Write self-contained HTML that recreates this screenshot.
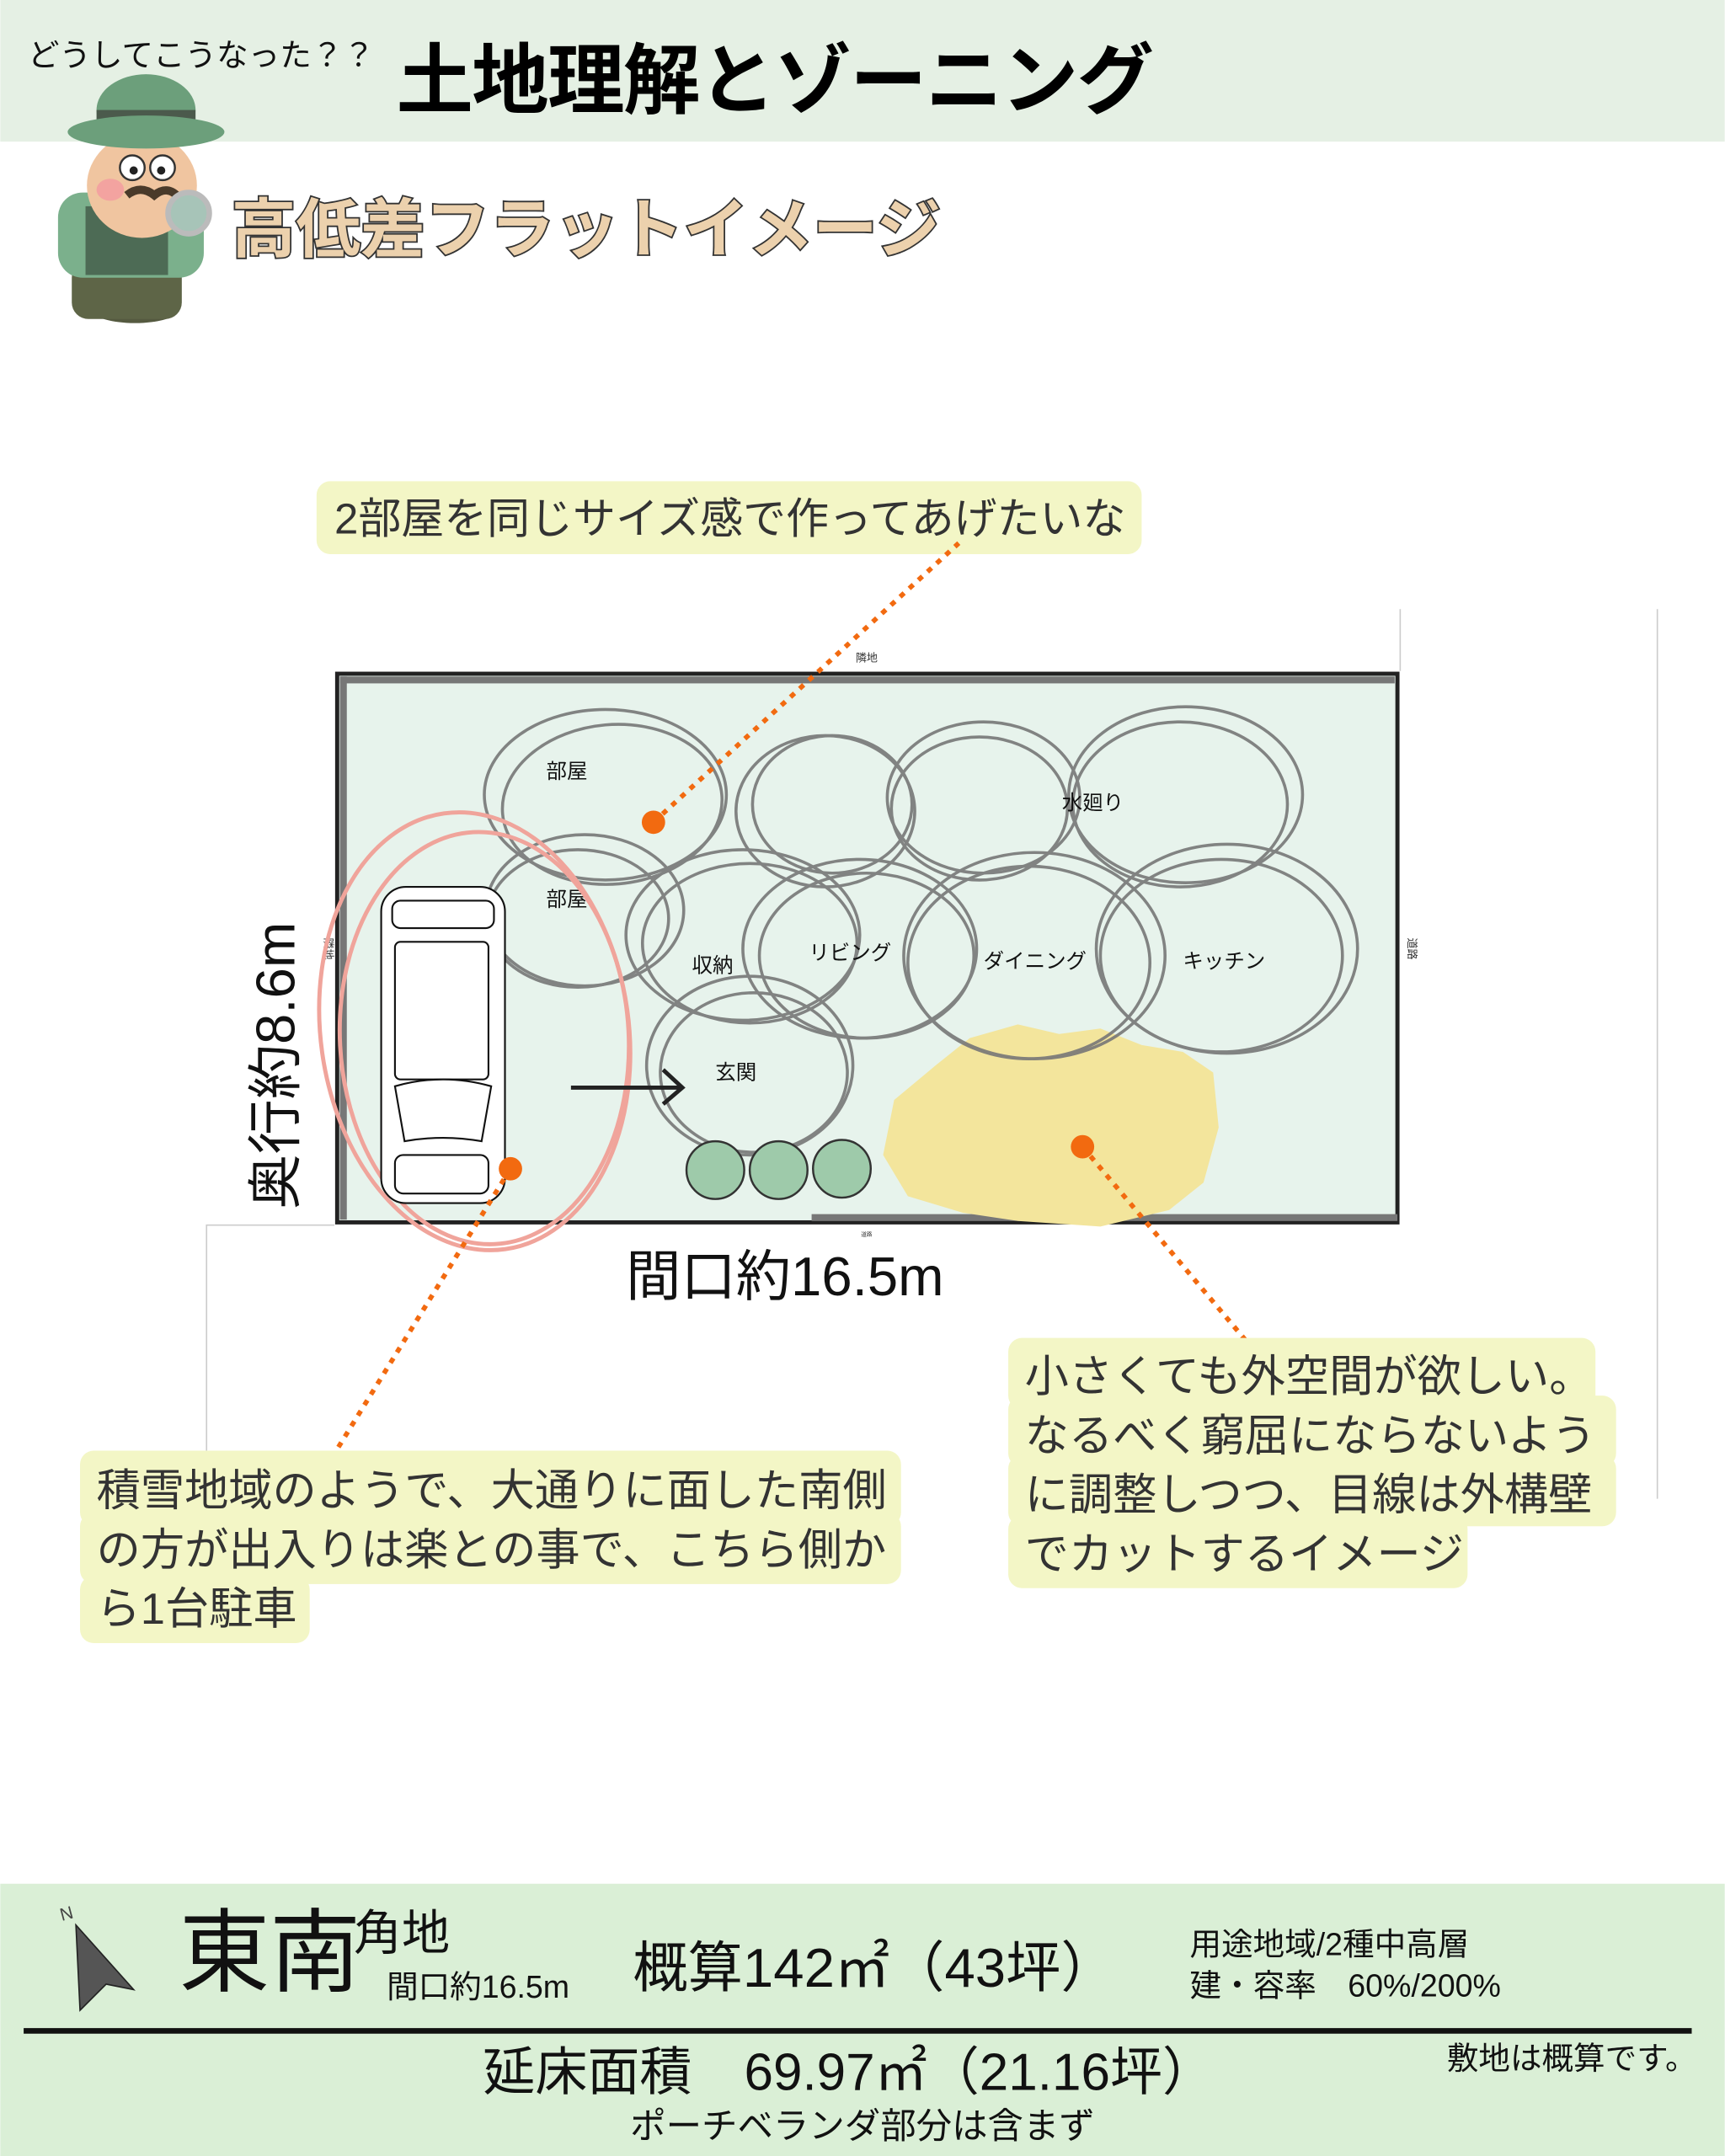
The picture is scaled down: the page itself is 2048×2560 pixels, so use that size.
<!DOCTYPE html>
<html><head><meta charset="utf-8"><style>
html,body{margin:0;padding:0;background:#fff}
svg{display:block}
text{font-family:"Liberation Sans","Noto Sans CJK JP",sans-serif}
</style></head><body>
<svg width="2048" height="2560" viewBox="0 0 1254 1568" xmlns="http://www.w3.org/2000/svg">
<rect width="1254" height="1568" fill="#fff"/>
<rect width="1254" height="103" fill="#e5f0e4"/>
<text x="20" y="48" font-size="23" fill="#111">どうしてこうなった？？</text>
<text x="288" y="78" font-size="56" font-weight="bold" fill="#000" letter-spacing="-1">土地理解とゾーニング</text>
<!-- detective -->
<g>
<ellipse cx="98" cy="225" rx="32" ry="10" fill="#555a40"/>
<rect x="52" y="190" width="80" height="42" rx="12" fill="#5e6547"/>
<rect x="42" y="140" width="106" height="62" rx="18" fill="#7bb08c"/>
<rect x="62" y="150" width="60" height="50" fill="#4d6b55"/>
<ellipse cx="103" cy="135" rx="40" ry="38" fill="#f0c5a0"/>
<ellipse cx="80" cy="138" rx="10" ry="8" fill="#f3a3a0"/>
<circle cx="96" cy="122" r="9" fill="#fff" stroke="#333" stroke-width="1.5"/>
<circle cx="118" cy="122" r="9" fill="#fff" stroke="#333" stroke-width="1.5"/>
<circle cx="97" cy="124" r="3" fill="#222"/><circle cx="117" cy="124" r="3" fill="#222"/>
<path d="M92 142 q10 -8 20 0 q10 -8 18 2" fill="none" stroke="#4a3a2a" stroke-width="6"/>
<ellipse cx="106" cy="80" rx="36" ry="26" fill="#6c9f7b"/>
<rect x="70" y="80" width="72" height="10" fill="#4b5a4c"/>
<ellipse cx="106" cy="96" rx="57" ry="12" fill="#6c9f7b"/>
<circle cx="137" cy="155" r="15" fill="#a7c4b8" stroke="#bbb" stroke-width="4"/>
</g>
<text x="168" y="183" font-size="47" font-weight="bold" fill="#ecd1ad" stroke="#333" stroke-width="2.2" paint-order="stroke" letter-spacing="0">高低差フラットイメージ</text>

<!-- bubble 1 -->
<rect x="230" y="350" width="600" height="53" rx="10" fill="#f3f6c6"/>
<text x="243" y="388" font-size="31.2" fill="#333">2部屋を同じサイズ感で作ってあげたいな</text>

<!-- guide lines -->
<g stroke="#ccc" stroke-width="1" fill="none">
<line x1="1018" y1="443" x2="1018" y2="488"/>
<line x1="1205" y1="443" x2="1205" y2="1090"/>
<polyline points="243,891 150,891 150,1060"/>
</g>
<!-- site -->
<rect x="245" y="490" width="771" height="399" fill="#e7f3ec" stroke="#222" stroke-width="3"/>
<rect x="247" y="492" width="767" height="5" fill="#777"/>
<rect x="247" y="492" width="5" height="395" fill="#777"/>
<rect x="590" y="883" width="426" height="5" fill="#777"/>
<text x="630" y="481" font-size="8" text-anchor="middle" fill="#333">隣地</text>
<text x="630" y="899" font-size="4" text-anchor="middle" fill="#333">道路</text>
<text transform="translate(236,690) rotate(90)" font-size="8" text-anchor="middle" fill="#333">隣地</text>
<text transform="translate(1024,690) rotate(90)" font-size="8" text-anchor="middle" fill="#333">道路</text>

<!-- yellow blob -->
<path d="M705 755 L740 745 L770 752 L800 748 L830 760 L860 765 L882 780 L886 820 L875 860 L850 880 L800 892 L740 888 L700 882 L660 870 L642 840 L650 800 L680 775 Z" fill="#f3e59c"/>

<!-- room circles -->
<g fill="none" stroke="#777" stroke-width="2.2" opacity="0.9">
<ellipse cx="440" cy="578" rx="88" ry="62"/><ellipse cx="445" cy="585" rx="80" ry="58" transform="rotate(-5 445 585)"/>
<ellipse cx="425" cy="662" rx="72" ry="55"/><ellipse cx="420" cy="668" rx="66" ry="50"/>
<ellipse cx="600" cy="590" rx="65" ry="55"/><ellipse cx="605" cy="585" rx="58" ry="50"/>
<ellipse cx="715" cy="580" rx="70" ry="55"/><ellipse cx="712" cy="588" rx="64" ry="52"/>
<ellipse cx="862" cy="578" rx="85" ry="64"/><ellipse cx="858" cy="585" rx="78" ry="60"/>
<ellipse cx="540" cy="680" rx="85" ry="62"/><ellipse cx="545" cy="686" rx="78" ry="58"/>
<ellipse cx="625" cy="690" rx="85" ry="65"/><ellipse cx="630" cy="695" rx="78" ry="60"/>
<ellipse cx="752" cy="695" rx="95" ry="75"/><ellipse cx="748" cy="700" rx="88" ry="70"/>
<ellipse cx="892" cy="690" rx="95" ry="76"/><ellipse cx="888" cy="695" rx="88" ry="70"/>
<ellipse cx="545" cy="775" rx="75" ry="65"/><ellipse cx="548" cy="780" rx="68" ry="58"/>
</g>
<g font-size="15" fill="#111">
<text x="397" y="566">部屋</text><text x="397" y="659">部屋</text>
<text x="772" y="589">水廻り</text><text x="503" y="707">収納</text>
<text x="588" y="698">リビング</text><text x="715" y="704">ダイニング</text>
<text x="860" y="704">キッチン</text><text x="520" y="785">玄関</text>
</g>
<!-- red ellipse -->
<g fill="none" stroke="#f0a49b" stroke-width="3">
<ellipse cx="345" cy="750" rx="112" ry="160" transform="rotate(-8 345 750)"/>
<ellipse cx="352" cy="755" rx="105" ry="150" transform="rotate(-3 352 755)"/>
</g>
<!-- car -->
<g fill="#fff" stroke="#111" stroke-width="1.3">
<rect x="277" y="645" width="90" height="230" rx="18"/>
<rect x="285" y="655" width="74" height="20" rx="6"/>
<rect x="287" y="685" width="68" height="100" rx="4"/>
<path d="M287 790 Q322 780 357 790 L350 830 Q322 825 294 830 Z"/>
<rect x="287" y="840" width="68" height="28" rx="6"/>
</g>
<!-- arrow -->
<path d="M415 791 L495 791 M482 778 L496 791 L482 803" fill="none" stroke="#222" stroke-width="3"/>
<!-- trees -->
<g fill="#9ecaaa" stroke="#333" stroke-width="1.5">
<circle cx="520" cy="851" r="21"/><circle cx="566" cy="851" r="21"/><circle cx="612" cy="850" r="21"/>
</g>
<!-- dotted leaders -->
<g stroke="#f26a10" stroke-width="3.5" stroke-dasharray="4 5" fill="none">
<line x1="475" y1="598" x2="697" y2="395"/>
<line x1="371" y1="850" x2="240" y2="1062"/>
<line x1="787" y1="834" x2="910" y2="980"/>
</g>
<g fill="#f26a10"><circle cx="475" cy="598" r="8.5"/><circle cx="371" cy="850" r="8.5"/><circle cx="787" cy="834" r="8.5"/></g>

<!-- dimensions -->
<text transform="translate(214,775) rotate(-90)" font-size="40" text-anchor="middle" fill="#111">奥行約8.6m</text>
<text x="455" y="942" font-size="40" fill="#111">間口約16.5m</text>

<!-- bubble bottom-left -->
<g fill="#f3f6c6">
<rect x="58" y="1055" width="597" height="55" rx="10"/>
<rect x="58" y="1100" width="597" height="52" rx="10"/>
<rect x="58" y="1146" width="167" height="49" rx="10"/>
</g>
<g font-size="32" fill="#333">
<text x="70" y="1095">積雪地域のようで、大通りに面した南側</text>
<text x="70" y="1138">の方が出入りは楽との事で、こちら側か</text>
<text x="70" y="1181">ら1台駐車</text>
</g>
<!-- bubble bottom-right -->
<g fill="#f3f6c6">
<rect x="733" y="973" width="427" height="52" rx="10"/>
<rect x="733" y="1015" width="442" height="52" rx="10"/>
<rect x="733" y="1058" width="442" height="52" rx="10"/>
<rect x="733" y="1102" width="334" height="53" rx="10"/>
</g>
<g font-size="32" fill="#333">
<text x="745" y="1012">小さくても外空間が欲しい。</text>
<text x="745" y="1055">なるべく窮屈にならないよう</text>
<text x="745" y="1098">に調整しつつ、目線は外構壁</text>
<text x="745" y="1141">でカットするイメージ</text>
</g>

<!-- footer -->
<rect x="0" y="1370" width="1254" height="198" fill="#daefd6"/>
<line x1="17" y1="1477" x2="1230" y2="1477" stroke="#111" stroke-width="4"/>
<text x="43" y="1396" font-size="13" fill="#444" transform="rotate(-15 48 1390)">N</text>
<polygon points="55,1400 97,1447 77,1443 58,1462" fill="#555" stroke="#222" stroke-width="1"/>
<text x="130" y="1443" font-size="66" fill="#111">東南</text>
<text x="257" y="1418" font-size="35" fill="#111">角地</text>
<text x="281" y="1453" font-size="23" fill="#111">間口約16.5m</text>
<text x="460" y="1445" font-size="40" fill="#111">概算142㎡（43坪）</text>
<text x="865" y="1422" font-size="23" fill="#111">用途地域/2種中高層</text>
<text x="865" y="1452" font-size="23" fill="#111">建・容率　60%/200%</text>
<text x="617" y="1520" font-size="38" fill="#111" text-anchor="middle">延床面積　69.97㎡（21.16坪）</text>
<text x="627" y="1555" font-size="26" fill="#111" text-anchor="middle">ポーチベランダ部分は含まず</text>
<text x="1052" y="1505" font-size="23" fill="#111">敷地は概算です。</text>
</svg>
</body></html>
